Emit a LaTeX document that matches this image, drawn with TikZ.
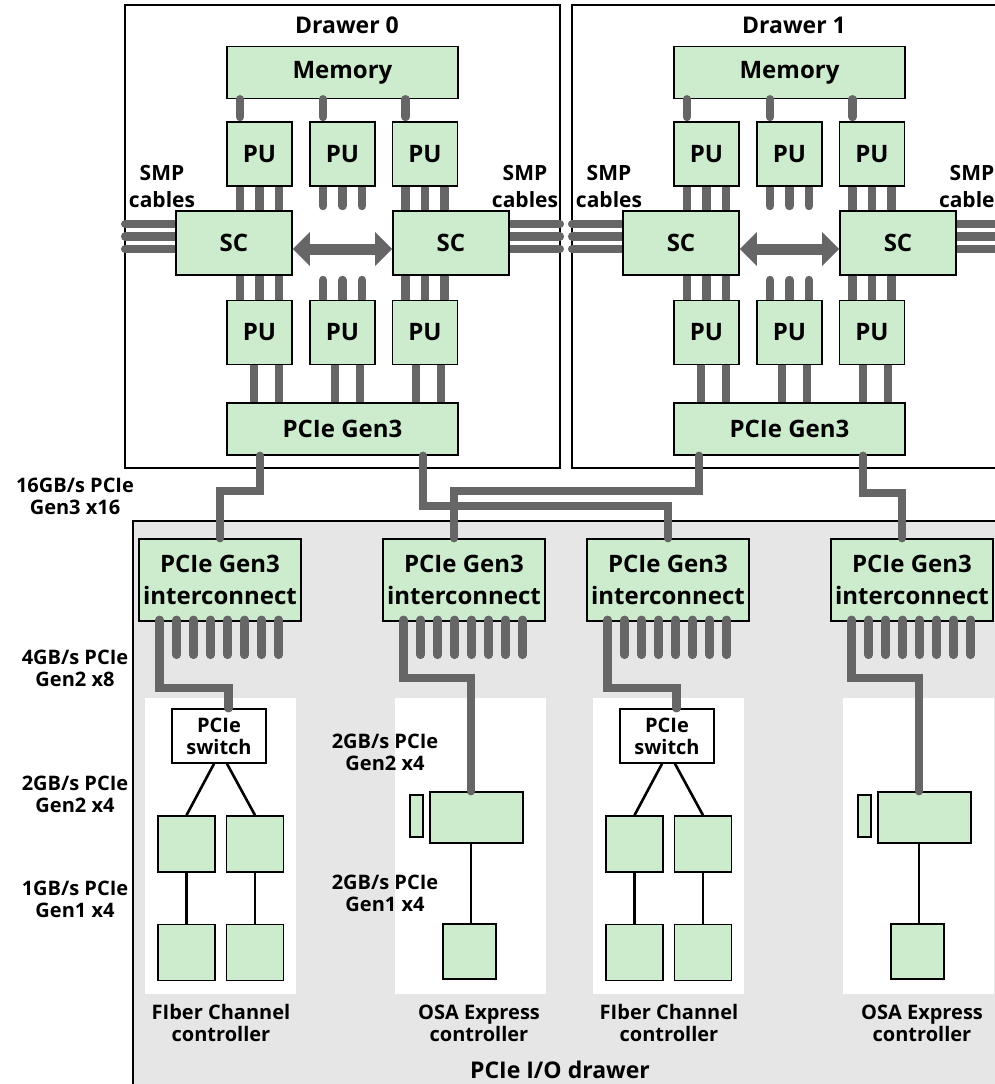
\documentclass[tikz,border=0pt]{standalone}
\usepackage{fontspec}
\setmainfont{Open Sans}
\usepackage{xcolor}
\usetikzlibrary{arrows.meta,backgrounds}
\definecolor{unitgreen}{HTML}{CDEBCD}
\definecolor{busgray}{HTML}{666666}
\definecolor{iogray}{HTML}{E6E6E6}

\begin{document}
\begin{tikzpicture}[x=1pt,y=-1pt,font=\bfseries]

\tikzset{
  unit/.style={draw=black, line width=1.6pt, fill=unitgreen, inner sep=0pt, align=center,
               font=\fontsize{24}{32}\selectfont\bfseries},
  pubox/.style={unit, minimum width=65pt, minimum height=64pt},
  scbox/.style={unit, minimum width=116pt, minimum height=64pt},
  widebox/.style={unit, minimum width=231pt, minimum height=52pt},
  icbox/.style={unit, minimum width=162pt, minimum height=82pt},
  card/.style={unit, minimum width=57pt, minimum height=56pt},
  swbox/.style={unit, fill=white, minimum width=94pt, minimum height=54pt,
                font=\fontsize{20}{22}\selectfont\bfseries},
  bus/.style={draw=busgray, line width=8.5pt, line cap=round},
  wire/.style={draw=black, line width=2.6pt},
  biarrow/.style={{Triangle[width=33pt,length=17pt]}-{Triangle[width=33pt,length=17pt]},
                  draw=busgray, line width=11pt},
  frame/.style={draw=black, line width=1.6pt},
  title/.style={font=\fontsize{23}{28}\selectfont\bfseries},
  smplabel/.style={align=center, font=\fontsize{21}{27}\selectfont\bfseries},
  ratelabel/.style={align=center, font=\fontsize{20}{22}\selectfont\bfseries},
  ctrllabel/.style={align=center, font=\fontsize{20}{22}\selectfont\bfseries}}

\useasboundingbox (0,0) rectangle (995,1084);
\clip (0,0) rectangle (995,1084);

% processor drawers
\foreach \d/\dx in {0/0,1/447}{
  \node[title] (title\d) at (347+\dx,25) {Drawer \d};
  \node[widebox] (mem\d) at (342.5+\dx,72.5) {Memory};
  \node[pubox] (pua\d) at (259.5+\dx,154) {PU};
  \node[pubox] (pub\d) at (342.5+\dx,154) {PU};
  \node[pubox] (puc\d) at (425+\dx,154) {PU};
  \node[scbox] (scl\d) at (234+\dx,243) {SC};
  \node[scbox] (scr\d) at (451+\dx,243) {SC};
  \node[pubox] (pud\d) at (259.5+\dx,332.5) {PU};
  \node[pubox] (pue\d) at (342.5+\dx,332.5) {PU};
  \node[pubox] (puf\d) at (425+\dx,332.5) {PU};
  \node[widebox] (pcie\d) at (342.5+\dx,429) {PCIe Gen3};
  \node[smplabel] (smpl\d) at (162+\dx,186.5) {SMP\\cables};
  \node[smplabel] (smpr\d) at (525+\dx,186.5) {SMP\\cables};

  % memory buses, rounded ends show inside the memory box
  \foreach \p in {pua,pub,puc}
    \draw[bus, shorten >=4.25pt] ([xshift=-19.5pt]\p\d.north |- mem\d.south) -- ([xshift=-19.5pt]\p\d.north);

  % SC <-> SC
  \draw[biarrow] ([yshift=-6pt]scl\d.east) -- ([yshift=-6pt]scr\d.west);

  \begin{scope}[on background layer]
    \draw[frame] (125+\dx,5) rectangle (560+\dx,468);
    % PU <-> SC
    \foreach \p/\sc in {pua/scl,puc/scr}
      \foreach \off in {-19.5,0,19.5}
        \draw[bus] ([xshift=\off pt]\p\d.south) -- ([xshift=\off pt]\p\d.south |- \sc\d.north);
    \foreach \p/\sc in {pud/scl,puf/scr}
      \foreach \off in {-19.5,0,19.5}
        \draw[bus] ([xshift=\off pt]\p\d.north |- \sc\d.south) -- ([xshift=\off pt]\p\d.north);
    \foreach \off in {-19.5,0,19.5}{
      \draw[bus, shorten >=4.25pt] ([xshift=\off pt]pub\d.south) -- ([xshift=\off pt]pub\d.south |- scl\d.north);
      \draw[bus, shorten <=4.25pt] ([xshift=\off pt]pue\d.north |- scl\d.south) -- ([xshift=\off pt]pue\d.north);
    }
    % PU -> PCIe
    \foreach \p/\off in {pud/-5.5,pue/-7.5,puf/-9}
      \foreach \q in {0,25}
        \draw[bus] ([xshift=\off pt+\q pt]\p\d.south) -- ([xshift=\off pt+\q pt]\p\d.south |- pcie\d.north);
    % SMP cables
    \foreach \off in {19,6.5,-6}{
      \draw[bus] ([yshift=\off pt]scl\d.west) -- ++(-50,0);
      \draw[bus] ([yshift=\off pt]scr\d.east) -- ++(50,0);
    }
  \end{scope}
}

% PCIe I/O drawer
\begin{scope}[on background layer]
  \fill[iogray] (133,521) rectangle (1000,1090);
  \draw[frame] (133,1090) -- (133,521) -- (1000,521);
  \foreach \dx in {0,448}{
    \fill[white] (145+\dx,698) rectangle (296+\dx,994);
    \fill[white] (395+\dx,698) rectangle (546+\dx,994);
  }
\end{scope}

\foreach \k/\dx/\ox in {1/0/479,2/448/922}{
  \node[icbox] (icfc\k) at (220+\dx,580) {PCIe Gen3\\interconnect};
  \node[icbox] (icosa\k) at (464+\dx,580) {PCIe Gen3\\interconnect};
  % Fibre Channel card
  \node[swbox] (sw\k) at (219+\dx,736) {PCIe\\switch};
  \node[card] (fca\k) at (186.5+\dx,844) {};
  \node[card] (fcb\k) at (255+\dx,844) {};
  \node[card] (fcc\k) at (186.5+\dx,952.5) {};
  \node[card] (fcd\k) at (255+\dx,952.5) {};
  \draw[wire] ([xshift=-5pt]sw\k.south) -- (fca\k.north);
  \draw[wire] ([xshift=8pt]sw\k.south) -- (fcb\k.north);
  \draw[wire] (fca\k) -- (fcc\k);
  \draw[wire] (fcb\k) -- (fcd\k);
  \node[ctrllabel] (fclab\k) at (221+\dx,1023) {FIber Channel\\controller};
  % OSA Express card
  \node[unit, minimum width=93pt, minimum height=51pt] (osa\k) at (476.5+\dx,817.5) {};
  \node[unit, minimum width=13pt, minimum height=42pt] (tab\k) at (416.5+\dx,816) {};
  \node[unit, minimum width=53pt, minimum height=55pt] (osb\k) at (469.5+\dx,951.5) {};
  \draw[wire] ([xshift=-5.5pt]osa\k.south) -- ([xshift=-5.5pt]osa\k.south |- osb\k.north);
  \node[ctrllabel] (osalab\k) at (\ox,1023) {OSA Express\\controller};
  % x8 links, the first one goes down to the card
  \draw[bus] ([xshift=21.5pt,yshift=2pt]icfc\k.south west) -- ++(0,68) -| ([xshift=9.5pt]sw\k.north);
  \draw[bus] ([xshift=21.5pt,yshift=2pt]icosa\k.south west) -- ++(0,58) -| ([xshift=-5.5pt]osa\k.north);
  \foreach \ic in {icfc\k,icosa\k}
    \foreach \i in {1,...,7}
      \draw[bus] ([xshift=21.5pt+17pt*\i,yshift=2pt]\ic.south west) -- ++(0,35);
}

% x16 cables drawer -> I/O drawer
\draw[bus] ([xshift=-82.5pt]pcie0.south) -- ++(0,35) -| (icfc1.north);
\draw[bus] ([xshift=80.5pt]pcie0.south) -- ++(0,50) -| (icfc2.north);
\draw[bus] ([xshift=-90.5pt]pcie1.south) -- ++(0,35) -| ([xshift=-10pt]icosa1.north);
\draw[bus] ([xshift=73.5pt]pcie1.south) -- ++(0,37) -| ([xshift=-10pt]icosa2.north);

% link rates
\node[ratelabel] (rate1) at (75,496) {16GB/s PCIe\\Gen3 x16};
\node[ratelabel] (rate2) at (75,668.5) {4GB/s PCIe\\Gen2 x8};
\node[ratelabel] (rate3) at (75,794) {2GB/s PCIe\\Gen2 x4};
\node[ratelabel] (rate4) at (75,899) {1GB/s PCIe\\Gen1 x4};
\node[ratelabel] (rate5) at (385,752.5) {2GB/s PCIe\\Gen2 x4};
\node[ratelabel] (rate6) at (385,893) {2GB/s PCIe\\Gen1 x4};

\node[title] (iotitle) at (560,1070) {PCIe I/O drawer};

\end{tikzpicture}
\end{document}
